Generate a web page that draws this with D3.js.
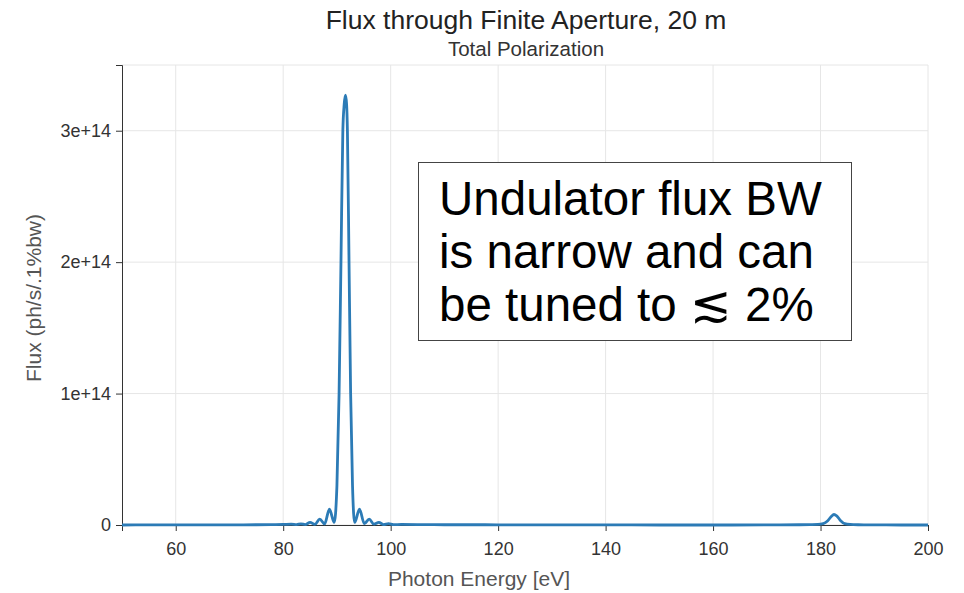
<!DOCTYPE html>
<html>
<head>
<meta charset="utf-8">
<script src="https://cdn.jsdelivr.net/npm/d3@7"></script>
<style>
  body { margin: 0; background: #fff; }
  svg text { font-family: "Liberation Sans", Arial, sans-serif; }
</style>
</head>
<body>
<svg id="chart" width="964" height="593"></svg>
<script>
// photon energy [eV] and flux, in units of 1e14 ph/s/.1%bw
const energy = [50, 55, 60, 65, 70, 75, 78, 80,
  81.5, 82.5, 83.3, 84.1, 85.0, 85.9, 86.8, 87.7, 88.6, 89.5,
  90.0, 90.4, 90.75, 91.1, 91.35, 91.6, 91.8, 91.95, 92.25, 92.55,
  92.9, 93.3, 94.2, 95.1, 96.0, 96.9, 97.8, 98.7, 99.6, 100.5,
  102, 105, 110, 115, 120, 130, 140, 150, 160, 170,
  176, 178, 179.5, 180.5, 181.3, 182.0, 182.5, 183.0, 183.7, 184.5,
  185.5, 187, 190, 195, 200];
const flux = [0, 0.0005, 0.001, 0.001, 0.0015, 0.002, 0.003, 0.004,
  0.006, 0.003, 0.009, 0.003, 0.02, 0.004, 0.045, 0.008, 0.12, 0.02,
  0.3, 1.0, 2.0, 3.0, 3.2, 3.27, 3.2, 3.0, 2.0, 1.0,
  0.3, 0.02, 0.12, 0.01, 0.045, 0.006, 0.02, 0.003, 0.01, 0.003,
  0.004, 0.003, 0.002, 0.002, 0.0015, 0.001, 0.0005, 0, 0, 0.0005,
  0.002, 0.003, 0.004, 0.01, 0.03, 0.065, 0.08, 0.07, 0.035, 0.01,
  0.004, 0.002, 0.001, 0, 0];

const xTicks = [60, 80, 100, 120, 140, 160, 180, 200];
const yTicks = [0, 1e14, 2e14, 3e14];
const yTickLabels = ["0", "1e+14", "2e+14", "3e+14"];
const noteLines = ["Undulator flux BW", "is narrow and can", "be tuned to \u2272 2%"];

const W = 964, H = 593;
const margin = {top: 65, right: 36, bottom: 68, left: 122};
const w = W - margin.left - margin.right;
const h = H - margin.top - margin.bottom;

const svg = d3.select("#chart");
const g = svg.append("g").attr("transform", `translate(${margin.left},${margin.top})`);

const x = d3.scaleLinear().domain([50, 200]).range([0, w]);
const y = d3.scaleLinear().domain([0, 3.5e14]).range([h, 0]);

// grid
g.append("g").selectAll("line").data(xTicks).join("line")
  .attr("x1", d => x(d)).attr("x2", d => x(d))
  .attr("y1", 0).attr("y2", h)
  .attr("stroke", "#e6e6e6");
g.append("g").selectAll("line").data(yTicks.concat([3.5e14])).join("line")
  .attr("x1", 0).attr("x2", w)
  .attr("y1", d => y(d)).attr("y2", d => y(d))
  .attr("stroke", "#e6e6e6");

// axes
const xAxis = g.append("g").attr("transform", `translate(0,${h})`)
  .call(d3.axisBottom(x).tickValues(xTicks).tickPadding(11));
const yAxis = g.append("g")
  .call(d3.axisLeft(y).tickValues(yTicks).tickFormat((d, i) => yTickLabels[i]).tickPadding(5));

[xAxis, yAxis].forEach(a => {
  a.selectAll("path, line").attr("stroke", "#333");
  a.selectAll("text").attr("fill", "#333").style("font-size", "18px")
    .style("font-family", '"Liberation Sans", Arial, sans-serif');
});

// curve
const line = d3.line()
  .x((d, i) => x(energy[i]))
  .y(d => y(d * 1e14))
  .curve(d3.curveMonotoneX);

g.append("path").datum(flux)
  .attr("d", line)
  .attr("fill", "none")
  .attr("stroke", "#2c7bb6")
  .attr("stroke-width", 2.8);

// titles
svg.append("text").attr("x", 526).attr("y", 29)
  .attr("text-anchor", "middle").attr("fill", "#222")
  .style("font-size", "26.5px").text("Flux through Finite Aperture, 20 m");
svg.append("text").attr("x", 526).attr("y", 56)
  .attr("text-anchor", "middle").attr("fill", "#333")
  .style("font-size", "20.5px").text("Total Polarization");

svg.append("text").attr("x", 479).attr("y", 586)
  .attr("text-anchor", "middle").attr("fill", "#555")
  .style("font-size", "21px").text("Photon Energy [eV]");
svg.append("text")
  .attr("transform", "translate(41,298) rotate(-90)")
  .attr("text-anchor", "middle").attr("fill", "#555")
  .style("font-size", "21px").text("Flux (ph/s/.1%bw)");

// annotation box
svg.append("rect")
  .attr("x", 418.5).attr("y", 162.5).attr("width", 433).attr("height", 178)
  .attr("fill", "#fff").attr("stroke", "#444").attr("stroke-width", 1);
const note = svg.append("g").selectAll("text").data(noteLines).join("text")
  .attr("x", 439).attr("y", (d, i) => 215 + i * 53)
  .attr("fill", "#000")
  .style("font-size", "47.5px");
note.each(function(d) {
  const parts = d.split("\u2272");
  const t = d3.select(this);
  t.append("tspan").text(parts[0]);
  if (parts.length > 1) {
    t.append("tspan").style("font-family", '"DejaVu Sans", sans-serif')
      .style("font-size", "50px").text("\u2272");
    t.append("tspan").text(parts[1]);
  }
});
</script>
</body>
</html>
